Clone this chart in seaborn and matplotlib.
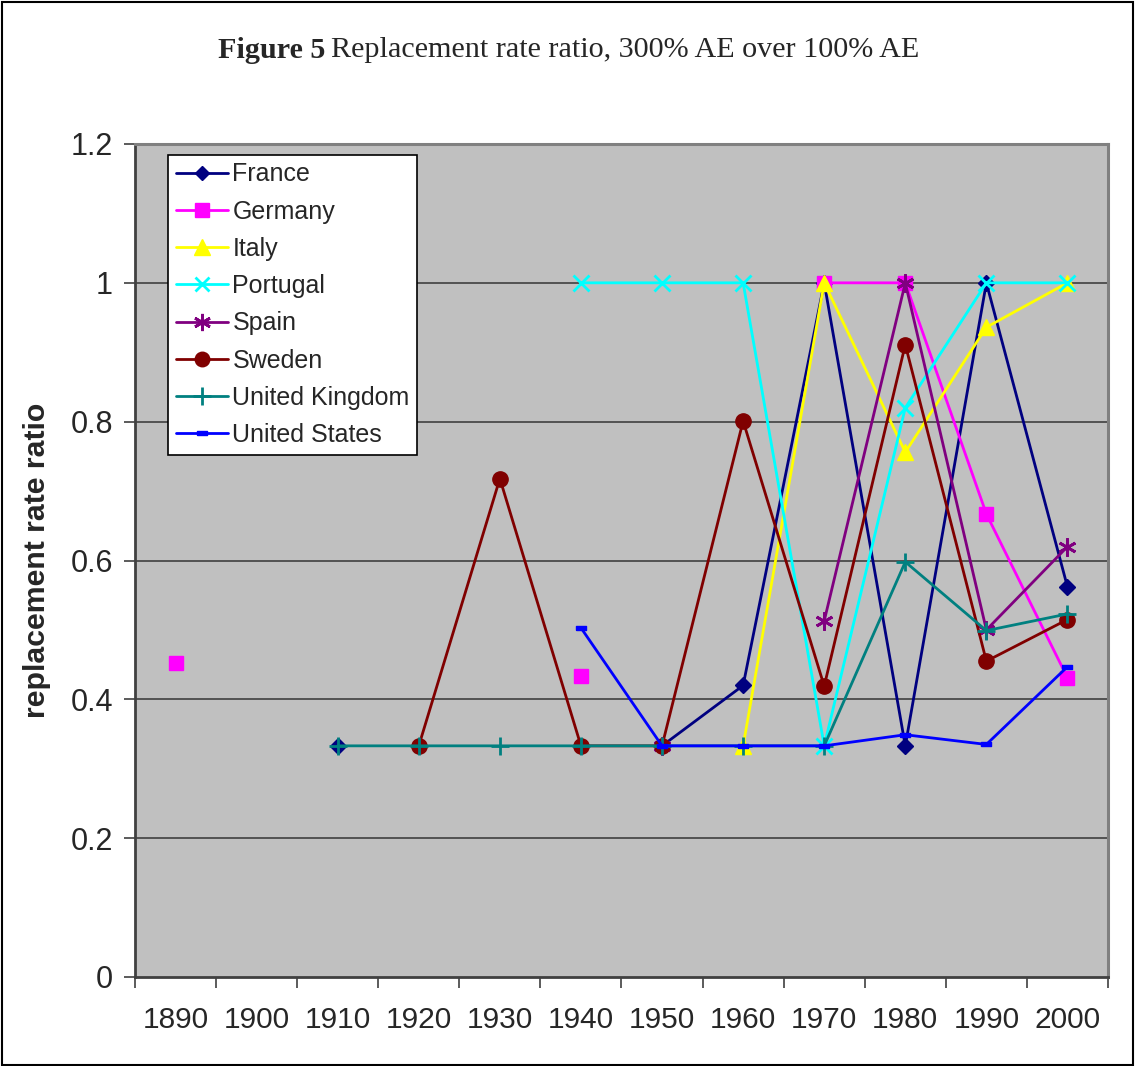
import numpy as np
import pandas as pd
import matplotlib
matplotlib.use("Agg")
import matplotlib.pyplot as plt
from matplotlib.lines import Line2D
from matplotlib.patches import Rectangle
import seaborn as sns

# ---------------- data ----------------
decades = [1890, 1900, 1910, 1920, 1930, 1940, 1950, 1960, 1970, 1980, 1990, 2000]
nan = np.nan
france   = [nan, nan, 0.333, nan, nan, nan, 0.333, 0.420, 1.000, 0.333, 1.000, 0.562]
germany  = [0.452, nan, nan, nan, nan, 0.434, nan, nan, 1.000, 1.000, 0.667, 0.431]
italy    = [nan, nan, nan, nan, nan, nan, nan, 0.333, 1.000, 0.756, 0.936, 1.000]
portugal = [nan, nan, nan, nan, nan, 1.000, 1.000, 1.000, 0.333, 0.820, 1.000, 1.000]
spain    = [nan, nan, nan, nan, nan, nan, 0.333, nan, 0.513, 1.000, 0.500, 0.620]
sweden   = [nan, nan, nan, 0.333, 0.718, 0.333, 0.333, 0.801, 0.419, 0.911, 0.455, 0.515]
uk       = [nan, nan, 0.333, 0.333, 0.333, 0.333, 0.333, 0.333, 0.333, 0.598, 0.499, 0.523]
us       = [nan, nan, nan, nan, nan, 0.503, 0.333, 0.333, 0.333, 0.349, 0.335, 0.447]

series_names = ["France", "Germany", "Italy", "Portugal", "Spain", "Sweden",
                "United Kingdom", "United States"]
series_values = [france, germany, italy, portugal, spain, sweden, uk, us]
yticks = [0, 0.2, 0.4, 0.6, 0.8, 1.0, 1.2]
ytick_labels = ["0", "0.2", "0.4", "0.6", "0.8", "1", "1.2"]

# ---------------- styles ----------------
rect_marker = [(-1, -0.45), (1, -0.45), (1, 0.45), (-1, 0.45), (-1, -0.45)]
styles = {
    "France":         dict(color="#000080", marker="D", ms=8, mfc="#000080", mew=1),
    "Germany":        dict(color="#FF00FF", marker="s", ms=10, mfc="#FF00FF", mew=1),
    "Italy":          dict(color="#FFFF00", marker="^", ms=12, mfc="#FFFF00", mew=1),
    "Portugal":       dict(color="#00FFFF", marker="x", ms=11, mfc="none", mew=2),
    "Spain":          dict(color="#800080", marker=(6, 2, 0), ms=13, mfc="none", mew=2),
    "Sweden":         dict(color="#800000", marker="o", ms=11, mfc="#800000", mew=1),
    "United Kingdom": dict(color="#008080", marker="+", ms=13, mfc="none", mew=2),
    "United States":  dict(color="#0000FF", marker=rect_marker, ms=7, mfc="#0000FF", mew=1),
}

sns.set_theme(style="white")
plt.rcParams["font.family"] = ["Liberation Sans", "DejaVu Sans"]

W, H = 1135, 1066
fig = plt.figure(figsize=(W / 100, H / 100), dpi=100)
ax = fig.add_axes([135 / W, 1 - 977 / H, (1108 - 135) / W, (977 - 144) / H])
ax.set_facecolor("#C0C0C0")

lw = 2.0
for name, vals in zip(series_names, series_values):
    st = styles[name]
    df = pd.DataFrame({"decade": decades, "value": vals})
    # contiguous segment ids so that gaps stay gaps
    df["seg"] = df["value"].isna().cumsum()
    df = df.dropna()
    sns.lineplot(data=df, x="decade", y="value", units="seg", estimator=None,
                 sort=False, color=st["color"], linewidth=lw, ax=ax,
                 marker=st["marker"], markersize=st["ms"],
                 markerfacecolor=st["mfc"], markeredgecolor=st["color"],
                 markeredgewidth=st["mew"], legend=False, zorder=3)

# axes limits / ticks
ax.set_xlim(1885, 2005)
ax.set_ylim(0, 1.2)
ax.set_yticks(yticks)
ax.set_yticklabels(ytick_labels)
ax.set_xticks(np.arange(1885, 2006, 10))
ax.set_xticklabels([])
ax.set_xticks(decades, minor=True)
ax.set_xticklabels([str(d) for d in decades], minor=True)
ax.tick_params(axis="x", which="major", direction="out", length=8, width=1.2,
               color="#404040", bottom=True)
ax.tick_params(axis="x", which="minor", length=0, pad=21, labelsize=21.5)
ax.tick_params(axis="y", direction="out", length=8, width=1.2, color="#404040",
               left=True, labelsize=22, pad=8)

for y in [0.2, 0.4, 0.6, 0.8, 1.0]:
    ax.axhline(y, color="#404040", linewidth=1.2, zorder=1)

for side in ["left", "bottom"]:
    ax.spines[side].set_color("#404040")
    ax.spines[side].set_linewidth(2)
for side in ["top", "right"]:
    ax.spines[side].set_color("#808080")
    ax.spines[side].set_linewidth(2.2)

ax.set_xlabel("")
ax.set_ylabel("replacement rate ratio", fontsize=21.8, fontweight="bold", labelpad=14)

# legend
handles = []
for name in series_names:
    st = styles[name]
    handles.append(Line2D([0], [0], color=st["color"], linewidth=lw,
                          marker=st["marker"], markersize=st["ms"] * 0.95,
                          markerfacecolor=st["mfc"], markeredgecolor=st["color"],
                          markeredgewidth=st["mew"]))
leg = ax.legend(handles, series_names, loc="upper left",
                bbox_to_anchor=((168 - 135) / 973, (977 - 155) / 833),
                borderaxespad=0, fontsize=18, frameon=True, fancybox=False,
                framealpha=1, edgecolor="black", facecolor="white",
                handlelength=2.1, handletextpad=0.18, labelspacing=0.53,
                borderpad=0.3)
leg.get_frame().set_linewidth(1.2)
leg.set_zorder(5)

# title
t1 = fig.text(218 / W, 1 - 50 / H, "Figure 5", fontsize=21.7, fontweight="bold",
              family=["Liberation Serif", "DejaVu Serif"], ha="left", va="center")
fig.canvas.draw()
bb = t1.get_window_extent()
fig.text((bb.x1 + 6) / W, 1 - 50 / H, "Replacement rate ratio, 300% AE over 100% AE",
         fontsize=21.7, family=["Liberation Serif", "DejaVu Serif"], ha="left", va="center")

# figure border
fig.patches.append(Rectangle((1.5 / W, 1.5 / H), 1 - 3.5 / W, 1 - 3.5 / H,
                             transform=fig.transFigure, fill=False,
                             edgecolor="black", linewidth=1.5))

fig.savefig("out.png", dpi=100)
